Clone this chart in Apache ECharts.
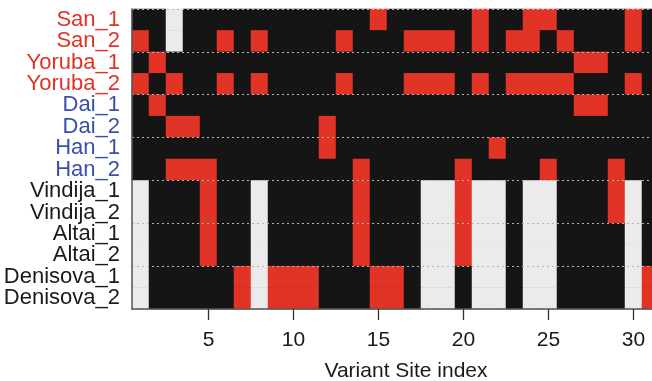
<!DOCTYPE html>
<html><head><meta charset="utf-8">
<script src="https://cdn.jsdelivr.net/npm/echarts@6/dist/echarts.min.js"></script>
<style>html,body{margin:0;padding:0;background:#fff}#c{width:652px;height:381px}</style>
</head><body><div id="c"></div>
<script>
// 0 = ancestral (black), 1 = derived (red), 2 = missing (light gray)
const sites = ['1','2','3','4','5','6','7','8','9','10','11','12','13','14','15','16','17','18','19','20','21','22','23','24','25','26','27','28','29','30','31'];
const samples = ['San_1','San_2','Yoruba_1','Yoruba_2','Dai_1','Dai_2','Han_1','Han_2','Vindija_1','Vindija_2','Altai_1','Altai_2','Denisova_1','Denisova_2'];
const labelColors = ['#e03326','#e03326','#e03326','#e03326','#3a4fa8','#3a4fa8','#3a4fa8','#3a4fa8','#1a1a1a','#1a1a1a','#1a1a1a','#1a1a1a','#1a1a1a','#1a1a1a'];
const xTicks = ['5','10','15','20','25','30'];

const San_1      = [0,0,2,0,0,0,0,0,0,0,0,0,0,0,1,0,0,0,0,0,1,0,0,1,1,0,0,0,0,1,0];
const San_2      = [1,0,2,0,0,1,0,1,0,0,0,0,1,0,0,0,1,1,1,0,1,0,1,1,0,1,0,0,0,1,0];
const Yoruba_1   = [0,1,0,0,0,0,0,0,0,0,0,0,0,0,0,0,0,0,0,0,0,0,0,0,0,0,1,1,0,0,0];
const Yoruba_2   = [1,0,1,0,0,1,0,1,0,0,0,0,1,0,0,0,1,1,1,0,1,0,1,1,1,1,0,0,0,1,0];
const Dai_1      = [0,1,0,0,0,0,0,0,0,0,0,0,0,0,0,0,0,0,0,0,0,0,0,0,0,0,1,1,0,0,0];
const Dai_2      = [0,0,1,1,0,0,0,0,0,0,0,1,0,0,0,0,0,0,0,0,0,0,0,0,0,0,0,0,0,0,0];
const Han_1      = [0,0,0,0,0,0,0,0,0,0,0,1,0,0,0,0,0,0,0,0,0,1,0,0,0,0,0,0,0,0,0];
const Han_2      = [0,0,1,1,1,0,0,0,0,0,0,0,0,1,0,0,0,0,0,1,0,0,0,0,1,0,0,0,1,0,0];
const Vindija_1  = [2,0,0,0,1,0,0,2,0,0,0,0,0,1,0,0,0,2,2,1,2,2,0,2,2,0,0,0,1,2,0];
const Vindija_2  = [2,0,0,0,1,0,0,2,0,0,0,0,0,1,0,0,0,2,2,1,2,2,0,2,2,0,0,0,1,2,0];
const Altai_1    = [2,0,0,0,1,0,0,2,0,0,0,0,0,1,0,0,0,2,2,1,2,2,0,2,2,0,0,0,0,2,0];
const Altai_2    = [2,0,0,0,1,0,0,2,0,0,0,0,0,1,0,0,0,2,2,1,2,2,0,2,2,0,0,0,0,2,0];
const Denisova_1 = [2,0,0,0,0,0,1,2,1,1,1,0,0,0,1,1,0,2,2,0,2,2,0,2,2,0,0,0,0,2,1];
const Denisova_2 = [2,0,0,0,0,0,1,2,1,1,1,0,0,0,1,1,0,2,2,0,2,2,0,2,2,0,0,0,0,2,1];

const rows = [San_1,San_2,Yoruba_1,Yoruba_2,Dai_1,Dai_2,Han_1,Han_2,Vindija_1,Vindija_2,Altai_1,Altai_2,Denisova_1,Denisova_2];
const data = [];
rows.forEach((r, yi) => r.forEach((v, xi) => data.push([xi, yi, v])));

const FF = 'Liberation Sans, Arial, sans-serif';
const chart = echarts.init(document.getElementById('c'));
chart.setOption({
  animation: false,
  textStyle: {fontFamily: FF},
  grid: {left: 132, top: 9, width: 527, height: 300, show: true, backgroundColor: '#151515', borderWidth: 0,
    outerBoundsMode: 'none', containLabel: false},
  xAxis: {
    type: 'category', data: sites, boundaryGap: true, z: 11, position: 'bottom',
    axisLine: {show: true, onZero: false, lineStyle: {color: '#555', width: 1.5}},
    axisTick: {show: true, length: 11, alignWithLabel: true, lineStyle: {color: '#333', width: 1.3},
      interval: (i, v) => xTicks.indexOf(v) >= 0},
    axisLabel: {interval: (i, v) => xTicks.indexOf(v) >= 0, margin: 21, fontSize: 21, color: '#1a1a1a', fontFamily: FF},
    splitLine: {show: false},
    name: 'Variant Site index', nameLocation: 'middle', nameGap: 52,
    nameTextStyle: {fontSize: 21, color: '#1a1a1a', padding: [0, 0, 0, 21], fontFamily: FF}
  },
  yAxis: [{
    type: 'category', inverse: true, z: 11,
    data: samples.map((s, i) => ({value: s, textStyle: {color: labelColors[i]}})),
    axisLine: {show: true, onZero: false, lineStyle: {color: '#555', width: 1.5}}, axisTick: {show: false},
    axisLabel: {interval: 0, margin: 12, fontSize: 22, fontFamily: FF},
    splitLine: {show: false}
  }, {
    type: 'value', min: 0, max: 14, interval: 2, inverse: true, position: 'left', z: 10,
    axisLine: {show: false, onZero: false}, axisTick: {show: false}, axisLabel: {show: false},
    splitLine: {show: true, lineStyle: {color: '#b5b5b5', width: 1.2, type: [2, 3]}}
  }],
  visualMap: {
    type: 'piecewise', show: false, dimension: 2,
    pieces: [{value: 0, color: '#151515'}, {value: 1, color: '#e13427'}, {value: 2, color: '#ebebeb'}]
  },
  series: [{
    type: 'heatmap', data: data, xAxisIndex: 0, yAxisIndex: 0,
    itemStyle: {borderWidth: 0}, emphasis: {disabled: true}
  }]
});
</script></body></html>
